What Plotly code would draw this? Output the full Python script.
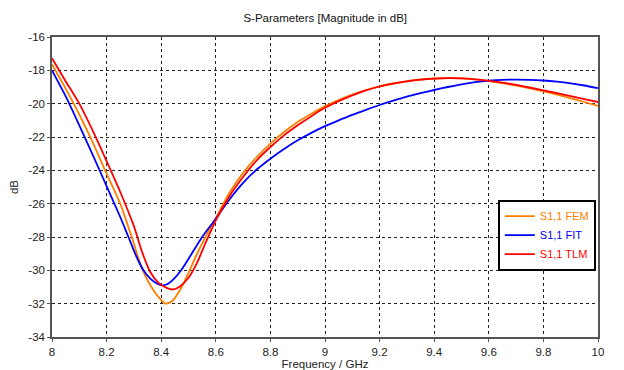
import plotly.graph_objects as go

# Frequencies (GHz) and S1,1 magnitudes (dB)
freq_fem = [8.00, 8.05, 8.10, 8.15, 8.20, 8.25, 8.29, 8.33, 8.36, 8.39, 8.415, 8.44, 8.47, 8.50,
            8.53, 8.565, 8.60, 8.65, 8.70, 8.75, 8.80, 8.85, 8.90, 8.95, 9.00, 9.05, 9.10, 9.15, 9.20,
            9.25, 9.30, 9.35, 9.40, 9.45, 9.50, 9.55, 9.60, 9.65, 9.70, 9.75, 9.80, 9.85, 9.90,
            9.95, 10.00]
s11_fem = [-17.65, -19.1, -20.65, -22.35, -24.2, -26.0, -27.9, -29.9, -30.9, -31.6, -32.0, -31.85, -31.15, -30.15,
           -29.05, -27.9, -26.85, -25.35, -24.15, -23.2, -22.4, -21.7, -21.1, -20.6, -20.15, -19.78, -19.45, -19.18, -18.96,
           -18.79, -18.65, -18.55, -18.49, -18.46, -18.48, -18.54, -18.64, -18.77, -18.92, -19.08, -19.26, -19.46, -19.68,
           -19.9, -20.14]

freq_fit = [8.00, 8.05, 8.10, 8.15, 8.20, 8.25, 8.28, 8.31, 8.335, 8.36, 8.385, 8.405, 8.425, 8.45, 8.475, 8.51,
            8.55, 8.60, 8.65, 8.70, 8.75, 8.80, 8.85, 8.90, 8.95, 9.00, 9.05, 9.10, 9.15, 9.20,
            9.25, 9.30, 9.35, 9.40, 9.45, 9.50, 9.55, 9.60, 9.65, 9.70, 9.75, 9.80, 9.85, 9.90,
            9.95, 10.00]
s11_fit = [-18.0, -19.55, -21.3, -23.1, -24.95, -26.8, -28.0, -29.2, -30.0, -30.5, -30.8, -30.9, -30.8, -30.45, -29.95, -29.05,
           -28.0, -26.9, -25.75, -24.75, -23.95, -23.3, -22.72, -22.2, -21.75, -21.35, -21.0, -20.67, -20.37, -20.08,
           -19.82, -19.58, -19.37, -19.18, -19.0, -18.84, -18.71, -18.62, -18.57, -18.56, -18.57, -18.61, -18.68, -18.78,
           -18.91, -19.07]

freq_tlm = [8.00, 8.05, 8.10, 8.15, 8.20, 8.25, 8.30, 8.33, 8.36, 8.39, 8.42, 8.443, 8.47, 8.50,
            8.53, 8.56, 8.60, 8.65, 8.70, 8.75, 8.80, 8.85, 8.90, 8.95, 9.00, 9.05, 9.10, 9.15, 9.20,
            9.25, 9.30, 9.35, 9.40, 9.45, 9.50, 9.55, 9.60, 9.65, 9.70, 9.75, 9.80, 9.85, 9.90,
            9.95, 10.00]
s11_tlm = [-17.28, -18.65, -20.0, -21.65, -23.45, -25.3, -27.35, -28.9, -30.1, -30.75, -31.05, -31.15, -30.95, -30.45,
           -29.6, -28.45, -27.0, -25.55, -24.4, -23.4, -22.6, -21.9, -21.3, -20.75, -20.25, -19.85, -19.5, -19.2, -18.97,
           -18.8, -18.66, -18.56, -18.5, -18.47, -18.48, -18.54, -18.63, -18.74, -18.87, -19.03, -19.2, -19.37, -19.55,
           -19.73, -19.9]

x_ticks = [8, 8.2, 8.4, 8.6, 8.8, 9, 9.2, 9.4, 9.6, 9.8, 10]
y_ticks = [-16, -18, -20, -22, -24, -26, -28, -30, -32, -34]

FONT = "Liberation Sans"

fig = go.Figure()
series = [
    ("S1,1 FEM", freq_fem, s11_fem, "#FF8000"),
    ("S1,1 FIT", freq_fit, s11_fit, "#0000FF"),
    ("S1,1 TLM", freq_tlm, s11_tlm, "#FF0000"),
]
for name, xs, ys, col in series:
    fig.add_trace(go.Scatter(
        x=xs, y=ys, mode="lines",
        line=dict(color=col, width=1.8, shape="spline", smoothing=0.6),
        name=f"<span style='color:{col}'>{name}</span>",
    ))

# the page body adds an 8px offset, so the figure is sized to fit the rest of the window
fig.update_layout(
    width=616, height=362,
    margin=dict(l=44, r=26, t=29, b=33),
    paper_bgcolor="white", plot_bgcolor="white",
    font=dict(family=FONT, size=11, color="#222222"),
    title=dict(text="S-Parameters [Magnitude in dB]", x=0.515, xanchor="center",
               y=0.972, yanchor="middle", font=dict(family=FONT, size=11.5, color="#111111")),
    showlegend=True,
    legend=dict(x=0.996, xanchor="right", y=0.458, yanchor="top",
                bgcolor="white", bordercolor="black", borderwidth=2,
                font=dict(family=FONT, size=11), itemwidth=30,
                tracegroupgap=0),
)
fig.update_xaxes(
    range=[8, 10], tickvals=x_ticks, ticktext=[f"{v:g}" for v in x_ticks],
    showgrid=True, gridcolor="#222222", griddash="dot", gridwidth=1,
    showline=True, linecolor="#555555", linewidth=1.5, mirror=True,
    ticks="outside", ticklen=3, tickcolor="#555555", zeroline=False, automargin=False,
    tickfont=dict(family=FONT, size=11.5),
    title=dict(text="Frequency / GHz", standoff=4, font=dict(family=FONT, size=11.5)),
)
fig.update_yaxes(
    range=[-34, -16], tickvals=y_ticks, ticktext=[f"{v:g}" for v in y_ticks],
    showgrid=True, gridcolor="#222222", griddash="dot", gridwidth=1,
    showline=True, linecolor="#555555", linewidth=1.5, mirror=True,
    ticks="outside", ticklen=3, tickcolor="#555555", zeroline=False, automargin=False,
    tickfont=dict(family=FONT, size=11.5),
    title=dict(text="dB", standoff=10, font=dict(family=FONT, size=11.5)),
)

fig.write_html("out.html")
